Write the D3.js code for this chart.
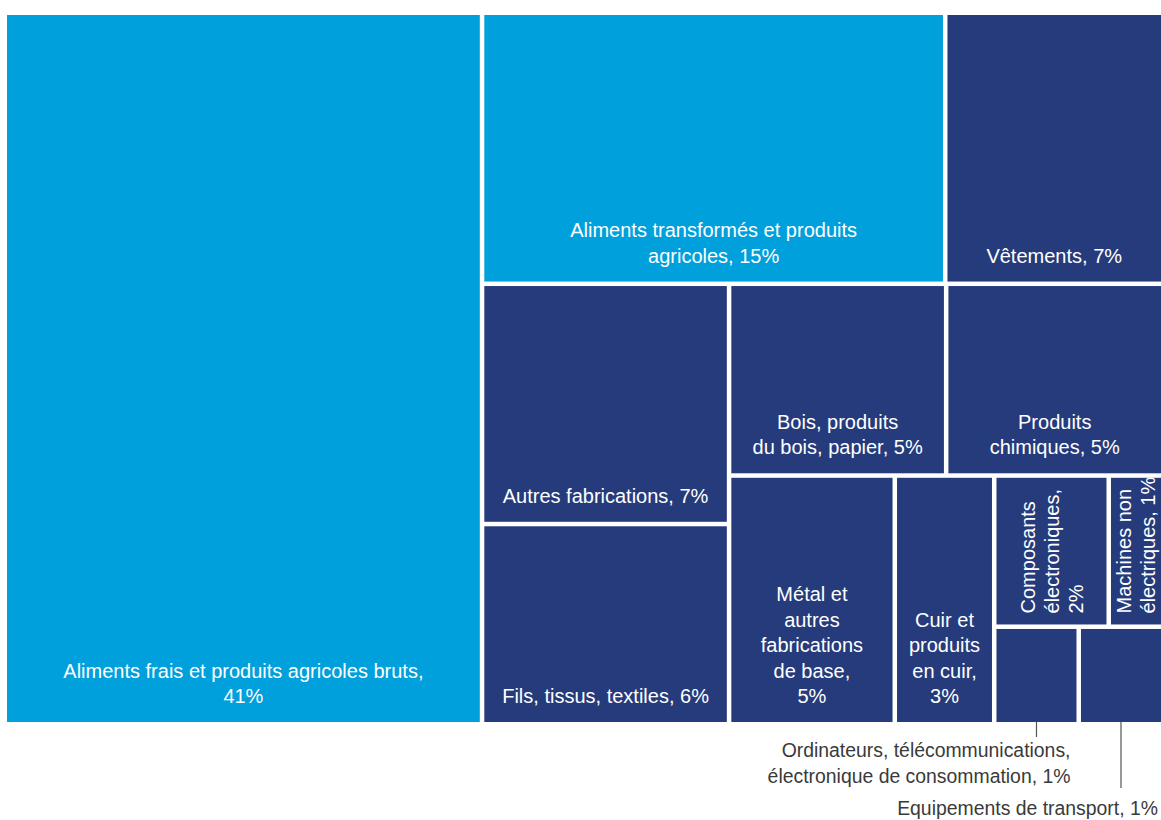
<!DOCTYPE html>
<html>
<head>
<meta charset="utf-8">
<script src="https://cdn.jsdelivr.net/npm/d3@7"></script>
<style>
  html, body { margin: 0; padding: 0; background: #fff; }
  svg { display: block; font-family: "Liberation Sans", Arial, Helvetica, sans-serif; }
</style>
</head>
<body>
<svg id="chart" width="1161" height="820"></svg>
<script>
// ---- data (shares of exports, %) ----
const categories = [
  "Aliments frais et produits agricoles bruts",
  "Aliments transformés et produits agricoles",
  "Vêtements",
  "Autres fabrications",
  "Fils, tissus, textiles",
  "Bois, produits du bois, papier",
  "Produits chimiques",
  "Métal et autres fabrications de base",
  "Cuir et produits en cuir",
  "Composants électroniques",
  "Machines non électriques",
  "Ordinateurs, télécommunications, électronique de consommation",
  "Equipements de transport"
];
const values = [41.2, 15.23, 7.17, 7.2, 6.0, 5.05, 5.05, 5.0, 3.0, 2.1, 1.0, 1.0, 1.0];
const sectors = ["agri", "agri", "manu", "manu", "manu", "manu", "manu", "manu", "manu", "manu", "manu", "manu", "manu"];
const leafGroups = ["root", "top", "top", "colAF", "colAF", "rowBC", "rowBC", "lower", "lower", "rowCM", "rowCM", "rowOT", "rowOT"];
// label lines as displayed
const labelLines = [
  ["Aliments frais et produits agricoles bruts,", "41%"],
  ["Aliments transformés et produits", "agricoles, 15%"],
  ["Vêtements, 7%"],
  ["Autres fabrications, 7%"],
  ["Fils, tissus, textiles, 6%"],
  ["Bois, produits", "du bois, papier, 5%"],
  ["Produits", "chimiques, 5%"],
  ["Métal et", "autres", "fabrications", "de base,", "5%"],
  ["Cuir et", "produits", "en cuir,", "3%"],
  ["Composants", "électroniques,", "2%"],
  ["Machines non", "électriques, 1%"],
  ["Ordinateurs, télécommunications,", "électronique de consommation, 1%"],
  ["Equipements de transport, 1%"]
];
const labelModes = ["in", "in", "in", "in", "in", "in", "in", "in", "in", "rot", "rot", "out", "out"];
// nesting of the treemap groups
const groupIds     = ["root", "rest", "top", "bottom", "colAF", "restB", "rowBC", "lower", "small", "rowCM", "rowOT"];
const groupParents = [null,   "root", "rest", "rest",  "bottom", "bottom", "restB", "restB", "lower", "small", "small"];

// ---- build hierarchy ----
const groupRows = groupIds.map((id, i) => ({ id, parent: groupParents[i] }));
const leafRows = categories.map((c, i) => ({ id: c, parent: leafGroups[i], value: values[i], idx: i }));
const orderedRows = [];
groupRows.forEach(gr => {
  if (gr.id === "small") leafRows.filter(l => l.parent === "lower").forEach(l => orderedRows.push(l));
  orderedRows.push(gr);
  if (gr.id === "root") leafRows.filter(l => l.parent === "root").forEach(l => orderedRows.push(l));
});
leafRows.filter(l => l.parent !== "lower" && l.parent !== "root").forEach(l => orderedRows.push(l));

const root = d3.stratify().id(d => d.id).parentId(d => d.parent)(orderedRows)
  .sum(d => d.value || 0);
// leaves before sub-groups where they share a parent (frais before rest; métal, cuir before small group)
root.eachBefore(n => {
  if (n.children) {
    n.children.sort((a, b) => {
      const ga = a.data.idx === undefined ? 1 : 0, gb = b.data.idx === undefined ? 1 : 0;
      if (ga !== gb) return ga - gb;
      if (!ga) return a.data.idx - b.data.idx;
      return groupIds.indexOf(a.id) - groupIds.indexOf(b.id);
    });
  }
});

function tile(node, x0, y0, x1, y1) {
  (y1 - y0 > x1 - x0 ? d3.treemapSlice : d3.treemapDice)(node, x0, y0, x1, y1);
}

const X0 = 7, Y0 = 15, W = 1154, H = 707;
d3.treemap().tile(tile).size([W, H]).paddingInner(4.5).round(false)(root);

const color = d3.scaleOrdinal().domain(["agri", "manu"]).range(["#00a0dc", "#253b7b"]);

const svg = d3.select("#chart");
const g = svg.append("g").attr("transform", `translate(${X0},${Y0})`);
const leaves = root.leaves();

g.selectAll("rect.cell").data(leaves).join("rect")
  .attr("class", "cell")
  .attr("x", d => d.x0).attr("y", d => d.y0)
  .attr("width", d => d.x1 - d.x0).attr("height", d => d.y1 - d.y0)
  .attr("fill", d => color(sectors[d.data.idx]));

const FS = 20, LH = 25.5;

leaves.forEach(d => {
  const i = d.data.idx, lines = labelLines[i], mode = labelModes[i];
  const cx = (d.x0 + d.x1) / 2;
  if (mode === "in") {
    const n = lines.length;
    const t = g.append("text").attr("fill", "#fff").attr("font-size", FS).attr("text-anchor", "middle");
    lines.forEach((ln, k) => {
      t.append("tspan").attr("x", cx).attr("y", d.y1 - 19 - (n - 1 - k) * LH).text(ln);
    });
  } else if (mode === "rot") {
    const n = lines.length, L = 24;
    const t = g.append("text").attr("fill", "#fff").attr("font-size", FS).attr("text-anchor", "start")
      .attr("transform", `translate(${cx},${d.y1 - 11}) rotate(-90)`);
    lines.forEach((ln, k) => {
      t.append("tspan").attr("x", 0).attr("y", (k - (n - 1) / 2) * L + FS * 0.36).text(ln);
    });
  } else {
    // leader line + label below the cell
    const isFirst = i === 11;
    const lineEnd = isFirst ? d.y1 + 15 : d.y1 + 66;
    g.append("line").attr("x1", cx).attr("x2", cx).attr("y1", d.y1).attr("y2", lineEnd)
      .attr("stroke", "#555").attr("stroke-width", 1.2);
    const t = g.append("text").attr("fill", "#3a3a3a").attr("font-size", 19.4).attr("text-anchor", "end");
    const baseY = isFirst ? d.y1 + 35 : d.y1 + 93;
    const xEnd = isFirst ? d.x1 - 6 : d.x1 - 3;
    lines.forEach((ln, k) => {
      t.append("tspan").attr("x", xEnd).attr("y", baseY + k * 26).text(ln);
    });
  }
});
</script>
</body>
</html>
